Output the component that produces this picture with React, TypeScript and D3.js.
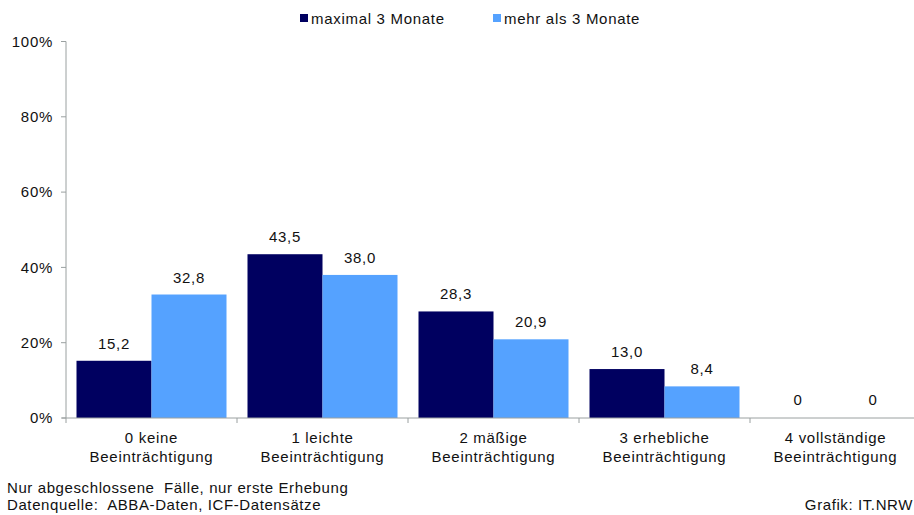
import React from "react";
import { scaleBand, scaleLinear } from "d3";

// categories (two-line labels)
const categories = [
  ["0 keine", "Beeinträchtigung"],
  ["1 leichte", "Beeinträchtigung"],
  ["2 mäßige", "Beeinträchtigung"],
  ["3 erhebliche", "Beeinträchtigung"],
  ["4 vollständige", "Beeinträchtigung"],
];
const seriesNames = ["maximal 3 Monate", "mehr als 3 Monate"];
const maxDreiMonate = [15.2, 43.5, 28.3, 13.0, 0];
const mehrAlsDrei = [32.8, 38.0, 20.9, 8.4, 0];
const yTicks = [0, 20, 40, 60, 80, 100];
const colors = ["#000060", "#55a2ff"];

const W = 914;
const H = 515;
const font = "'Liberation Sans', Arial, sans-serif";
const ls = 0.7; // the source text is a bit wider than Arial

export default function App() {
  const left = 66;
  const right = 921; // last band runs past the picture edge
  const bottom = 418;
  const top = 41.5;

  const keys = categories.map((c) => c.join(" "));
  const x = scaleBand<string>().domain(keys).range([left, right]).padding(0);
  const xs = scaleBand<string>()
    .domain(seriesNames)
    .range([0, x.bandwidth()])
    .paddingInner(0)
    .paddingOuter(0.14);
  const y = scaleLinear().domain([0, 100]).range([bottom, top]);

  const series = [maxDreiMonate, mehrAlsDrei];
  const fmt = (v: number) => (v === 0 ? "0" : v.toFixed(1).replace(".", ","));

  return (
    <svg
      width={W}
      height={H}
      style={{ position: "absolute", left: 0, top: 0, background: "#fff" }}
      fontFamily={font}
      letterSpacing={ls}
    >
      {/* legend */}
      {seriesNames.map((s, i) => {
        const lx = i === 0 ? 300 : 493;
        return (
          <g key={s}>
            <rect x={lx} y={14} width={8} height={8} fill={colors[i]} />
            <text x={lx + 11} y={23.5} fontSize={15} fill="#111">
              {s}
            </text>
          </g>
        );
      })}

      {/* y axis */}
      <line x1={left} x2={left} y1={top} y2={bottom} stroke="#9aa0a0" />
      {yTicks.map((t) => (
        <g key={t}>
          <line x1={left - 5} x2={left} y1={y(t)} y2={y(t)} stroke="#9aa0a0" />
          <text
            x={53}
            y={y(t)}
            dy="0.35em"
            textAnchor="end"
            fontSize={15}
            fill="#111"
          >
            {t}%
          </text>
        </g>
      ))}

      {/* bars */}
      {keys.map((k, ci) => (
        <g key={k}>
          {series.map((vals, si) => {
            const bx = (x(k) ?? 0) + (xs(seriesNames[si]) ?? 0);
            const v = vals[ci];
            return (
              <g key={si}>
                {v > 0 && (
                  <rect
                    x={bx}
                    y={y(v)}
                    width={xs.bandwidth()}
                    height={bottom - y(v)}
                    fill={colors[si]}
                  />
                )}
                <text
                  x={bx + xs.bandwidth() / 2}
                  y={y(v) - (v > 0 ? 12 : 13)}
                  textAnchor="middle"
                  fontSize={15}
                  fill="#111"
                >
                  {fmt(v)}
                </text>
              </g>
            );
          })}
        </g>
      ))}

      {/* x axis */}
      <line x1={left - 4} x2={W} y1={bottom} y2={bottom} stroke="#9aa0a0" />
      {keys.map((k) => (
        <line
          key={k}
          x1={(x(k) ?? 0) + x.bandwidth()}
          x2={(x(k) ?? 0) + x.bandwidth()}
          y1={bottom}
          y2={bottom + 5}
          stroke="#9aa0a0"
        />
      ))}
      <line x1={left} x2={left} y1={bottom} y2={bottom + 5} stroke="#9aa0a0" />
      {categories.map((c, i) => {
        const cx = (x(keys[i]) ?? 0) + x.bandwidth() / 2;
        return (
          <text key={i} textAnchor="middle" fontSize={15} fill="#111">
            <tspan x={cx} y={443}>
              {c[0]}
            </tspan>
            <tspan x={cx} y={462}>
              {c[1]}
            </tspan>
          </text>
        );
      })}

      {/* footnotes */}
      <text x={7} y={493} fontSize={15} letterSpacing={0.6} fill="#111" style={{ whiteSpace: "pre" }}>
        {"Nur abgeschlossene  Fälle, nur erste Erhebung"}
      </text>
      <text x={7} y={510} fontSize={15} letterSpacing={0.6} fill="#111" style={{ whiteSpace: "pre" }}>
        {"Datenquelle:  ABBA-Daten, ICF-Datensätze"}
      </text>
      <text x={913} y={510} fontSize={15} letterSpacing={0.6} textAnchor="end" fill="#111">
        Grafik: IT.NRW
      </text>
    </svg>
  );
}
